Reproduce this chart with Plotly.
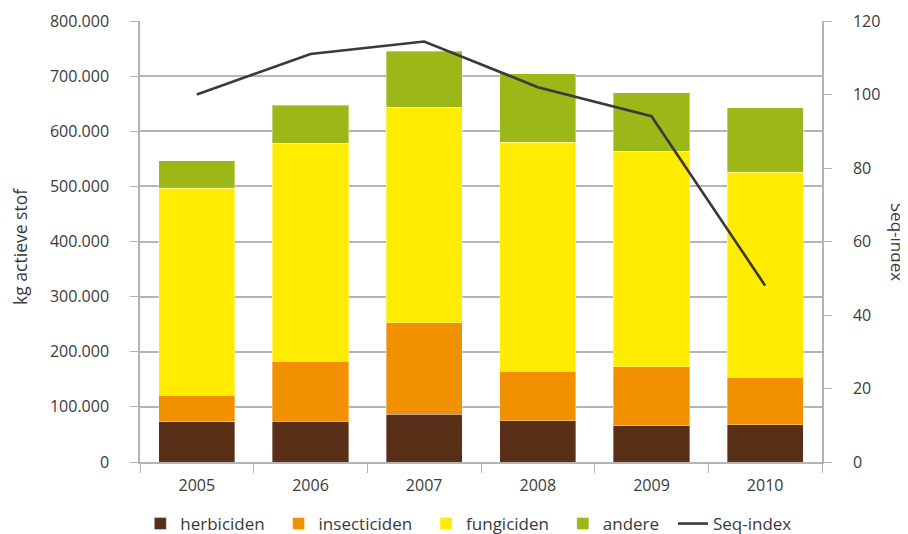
import plotly.graph_objects as go

years = ["2005", "2006", "2007", "2008", "2009", "2010"]
herbiciden = [73000, 74000, 86500, 75000, 66000, 68000]
insecticiden = [48500, 109000, 166000, 90000, 107000, 86000]
fungiciden = [375500, 395500, 391000, 415500, 391000, 371500]
andere = [49600, 69000, 101600, 123400, 106000, 117300]
seq_index = [100, 111, 114.4, 102, 94.1, 48]

left_ticks = [0, 100000, 200000, 300000, 400000, 500000, 600000, 700000, 800000]
right_ticks = [0, 20, 40, 60, 80, 100, 120]

font_family = "Open Sans"
text_color = "#3a3a3a"
grid_color = "#b4b4b4"
pad = "\u00a0\u00a0"  # extra spacing between legend entries

fig = go.Figure()
series = [
    ("herbiciden", herbiciden, "#5a2f18"),
    ("insecticiden", insecticiden, "#f29100"),
    ("fungiciden", fungiciden, "#ffec00"),
    ("andere", andere, "#9bb818"),
]
for name, vals, col in series:
    fig.add_trace(go.Bar(
        x=years, y=vals, name=name + pad,
        marker=dict(color=col, line=dict(width=0.6, color="rgba(255,255,255,0.6)")),
    ))

fig.add_trace(go.Scatter(
    x=years, y=seq_index, name="Seq-index", mode="lines",
    line=dict(color="#3a3a3a", width=2.6), yaxis="y2",
))

# page body has an 8px margin, so the figure is 900x526 and offset accordingly
fig.update_layout(
    width=900, height=526,
    barmode="stack", bargap=0.33,
    separators=",.",
    plot_bgcolor="white", paper_bgcolor="white",
    margin=dict(l=132, r=86, t=13, b=72, autoexpand=False),
    font=dict(family=font_family, size=16, color=text_color),
    showlegend=True,
    legend=dict(orientation="h", xref="container", yref="container",
                x=0.512, xanchor="center", y=0.019, yanchor="middle",
                font=dict(size=17, color=text_color), itemwidth=30,
                traceorder="normal", tracegroupgap=0),
    xaxis=dict(
        showline=True, linecolor=grid_color, linewidth=1.5,
        ticks="outside", tickson="boundaries", ticklen=9, tickcolor=grid_color,
        tickfont=dict(size=16, color=text_color), ticklabelstandoff=8,
        showgrid=False, automargin=False,
    ),
    yaxis=dict(
        range=[0, 800000], tickvals=left_ticks, tickformat=",d",
        showline=True, linecolor=grid_color, linewidth=1.5,
        ticks="outside", ticklen=8, tickcolor=grid_color,
        showgrid=True, gridcolor=grid_color, gridwidth=1.5,
        zeroline=False, ticklabelstandoff=18, automargin=False,
        tickfont=dict(size=16, color=text_color),
    ),
    yaxis2=dict(
        range=[0, 120], tickvals=right_ticks, overlaying="y", side="right",
        showline=True, linecolor=grid_color, linewidth=1.5,
        ticks="outside", ticklen=8, tickcolor=grid_color,
        showgrid=False, zeroline=False, ticklabelstandoff=18, automargin=False,
        tickfont=dict(size=16, color=text_color),
    ),
    annotations=[
        dict(text="kg actieve stof", xref="paper", yref="paper", x=-0.176, y=0.49,
             xanchor="center", yanchor="middle", textangle=-90, showarrow=False,
             font=dict(size=17.5, color=text_color)),
        dict(text="Seq-index", xref="paper", yref="paper", x=1.111, y=0.5,
             xanchor="center", yanchor="middle", textangle=90, showarrow=False,
             font=dict(size=17, color=text_color)),
    ],
)

fig.write_html("out.html")
